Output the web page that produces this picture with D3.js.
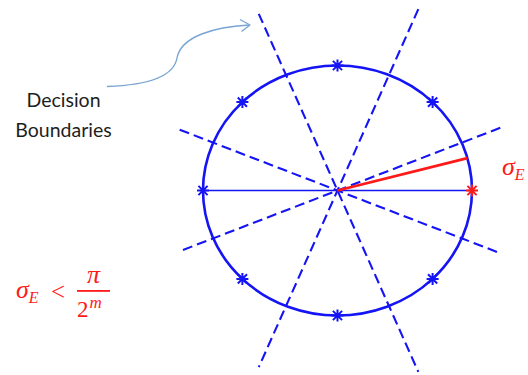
<!DOCTYPE html>
<html>
<head>
<meta charset="utf-8">
<script src="https://cdn.jsdelivr.net/npm/d3@7"></script>
<style>
  html, body { margin: 0; padding: 0; background: #fff; }
  svg { display: block; }
</style>
</head>
<body>
<svg id="chart" width="528" height="375"></svg>
<script>
// Constellation points on the unit circle (degrees)
const symbolAngles = [0, 45, 90, 135, 180, 225, 270, 315];
// Decision boundaries between neighbouring symbols (degrees)
const boundaryAngles = [22.5, 67.5, 112.5, 157.5];
// How far each boundary reaches: [towards angle+180, towards angle]
const boundaryReach = [[1.26, 1.31], [1.53, 1.57], [1.57, 1.53], [1.29, 1.27]];
// Reference axis through the origin, and the phase-error vector
const axisAngles = [180, 0];
const errorAngle = 15;
const errorLength = 1;
const labels = { boundaries: ["Decision", "Boundaries"], sigma: "σ", sub: "E" };

const svg = d3.select("#chart");
const blue = "#1414f5";
const red = "#ff1a1a";

const x = d3.scaleLinear().domain([-1, 1]).range([203, 472]);
const y = d3.scaleLinear().domain([-1, 1]).range([315.5, 65.5]);

const rad = d => d * Math.PI / 180;
const px = (r, a) => x(r * Math.cos(rad(a)));
const py = (r, a) => y(r * Math.sin(rad(a)));

// dashed decision boundaries
svg.append("g").selectAll("line")
  .data(boundaryAngles)
  .join("line")
  .attr("x1", (a, i) => px(boundaryReach[i][1], a))
  .attr("y1", (a, i) => py(boundaryReach[i][1], a))
  .attr("x2", (a, i) => px(-boundaryReach[i][0], a))
  .attr("y2", (a, i) => py(-boundaryReach[i][0], a))
  .attr("stroke", blue)
  .attr("stroke-width", 2.1)
  .attr("stroke-dasharray", "10,5");

// unit circle
svg.append("ellipse")
  .attr("cx", x(0)).attr("cy", y(0))
  .attr("rx", x(1) - x(0)).attr("ry", y(0) - y(1))
  .attr("fill", "none")
  .attr("stroke", blue)
  .attr("stroke-width", 2.6);

// horizontal reference through the origin
svg.append("line")
  .attr("x1", px(1, axisAngles[0])).attr("y1", py(1, axisAngles[0]))
  .attr("x2", px(1, axisAngles[1])).attr("y2", py(1, axisAngles[1]))
  .attr("stroke", blue)
  .attr("stroke-width", 1.6);

// phase error vector
svg.append("line")
  .attr("x1", x(0)).attr("y1", y(0))
  .attr("x2", px(errorLength, errorAngle)).attr("y2", py(errorLength, errorAngle))
  .attr("stroke", red)
  .attr("stroke-width", 2.8);

// asterisk markers
const star = (s, t) => `M${-s},0H${s}M0,${-s}V${s}M${-t},${-t}L${t},${t}M${-t},${t}L${t},${-t}`;
svg.append("g").selectAll("path")
  .data(symbolAngles)
  .join("path")
  .attr("transform", a => `translate(${px(1, a)},${py(1, a)})`)
  .attr("d", star(6, 4.6))
  .attr("fill", "none")
  .attr("stroke", a => a === 0 ? red : blue)
  .attr("stroke-width", 2);

// label for the error angle
const sig = svg.append("text")
  .attr("x", 502).attr("y", 175)
  .attr("fill", red)
  .attr("font-family", "'Liberation Serif', serif")
  .attr("font-style", "italic")
  .attr("font-size", 26);
sig.append("tspan").text(labels.sigma);
sig.append("tspan").attr("font-size", 16).attr("dy", 5).text(labels.sub);

// "Decision Boundaries" callout
svg.append("g").selectAll("text")
  .data(labels.boundaries)
  .join("text")
  .attr("x", 63.5)
  .attr("y", (d, i) => 106.5 + i * 30.5)
  .attr("text-anchor", "middle")
  .attr("fill", "#1e1e1e")
  .attr("font-family", "Lato, 'Open Sans', sans-serif")
  .attr("font-size", 19.5)
  .text(d => d);

const arrow = "#79a5d4";
svg.append("path")
  .attr("d", "M107,86.5 C150,85 174,76 177,58 C181,36 215,27 249,25")
  .attr("fill", "none")
  .attr("stroke", arrow)
  .attr("stroke-width", 1.4);
svg.append("path")
  .attr("d", "M240,19.5 L250,25 L241.5,31.5")
  .attr("fill", "none")
  .attr("stroke", arrow)
  .attr("stroke-width", 1.4)
  .attr("stroke-linejoin", "round");

// bound on the phase error: σE < π / 2^m
const f = svg.append("g")
  .attr("fill", red)
  .attr("font-family", "'Liberation Serif', serif")
  .attr("font-size", 26);
const lhs = f.append("text").attr("x", 16).attr("y", 298).attr("font-style", "italic");
lhs.append("tspan").text("σ");
lhs.append("tspan").attr("font-size", 16).attr("dy", 5).text("E");
f.append("text").attr("x", 51).attr("y", 300).attr("font-size", 25).text("<");
f.append("text").attr("x", 93.5).attr("y", 283).attr("text-anchor", "middle")
  .attr("font-style", "italic").text("π");
f.append("rect").attr("x", 77).attr("y", 290).attr("width", 33).attr("height", 1.8);
const den = f.append("text").attr("x", 77).attr("y", 317);
den.append("tspan").attr("font-size", 23).text("2");
den.append("tspan").attr("font-size", 17).attr("font-style", "italic").attr("dy", -9).attr("dx", 1).text("m");
</script>
</body>
</html>
